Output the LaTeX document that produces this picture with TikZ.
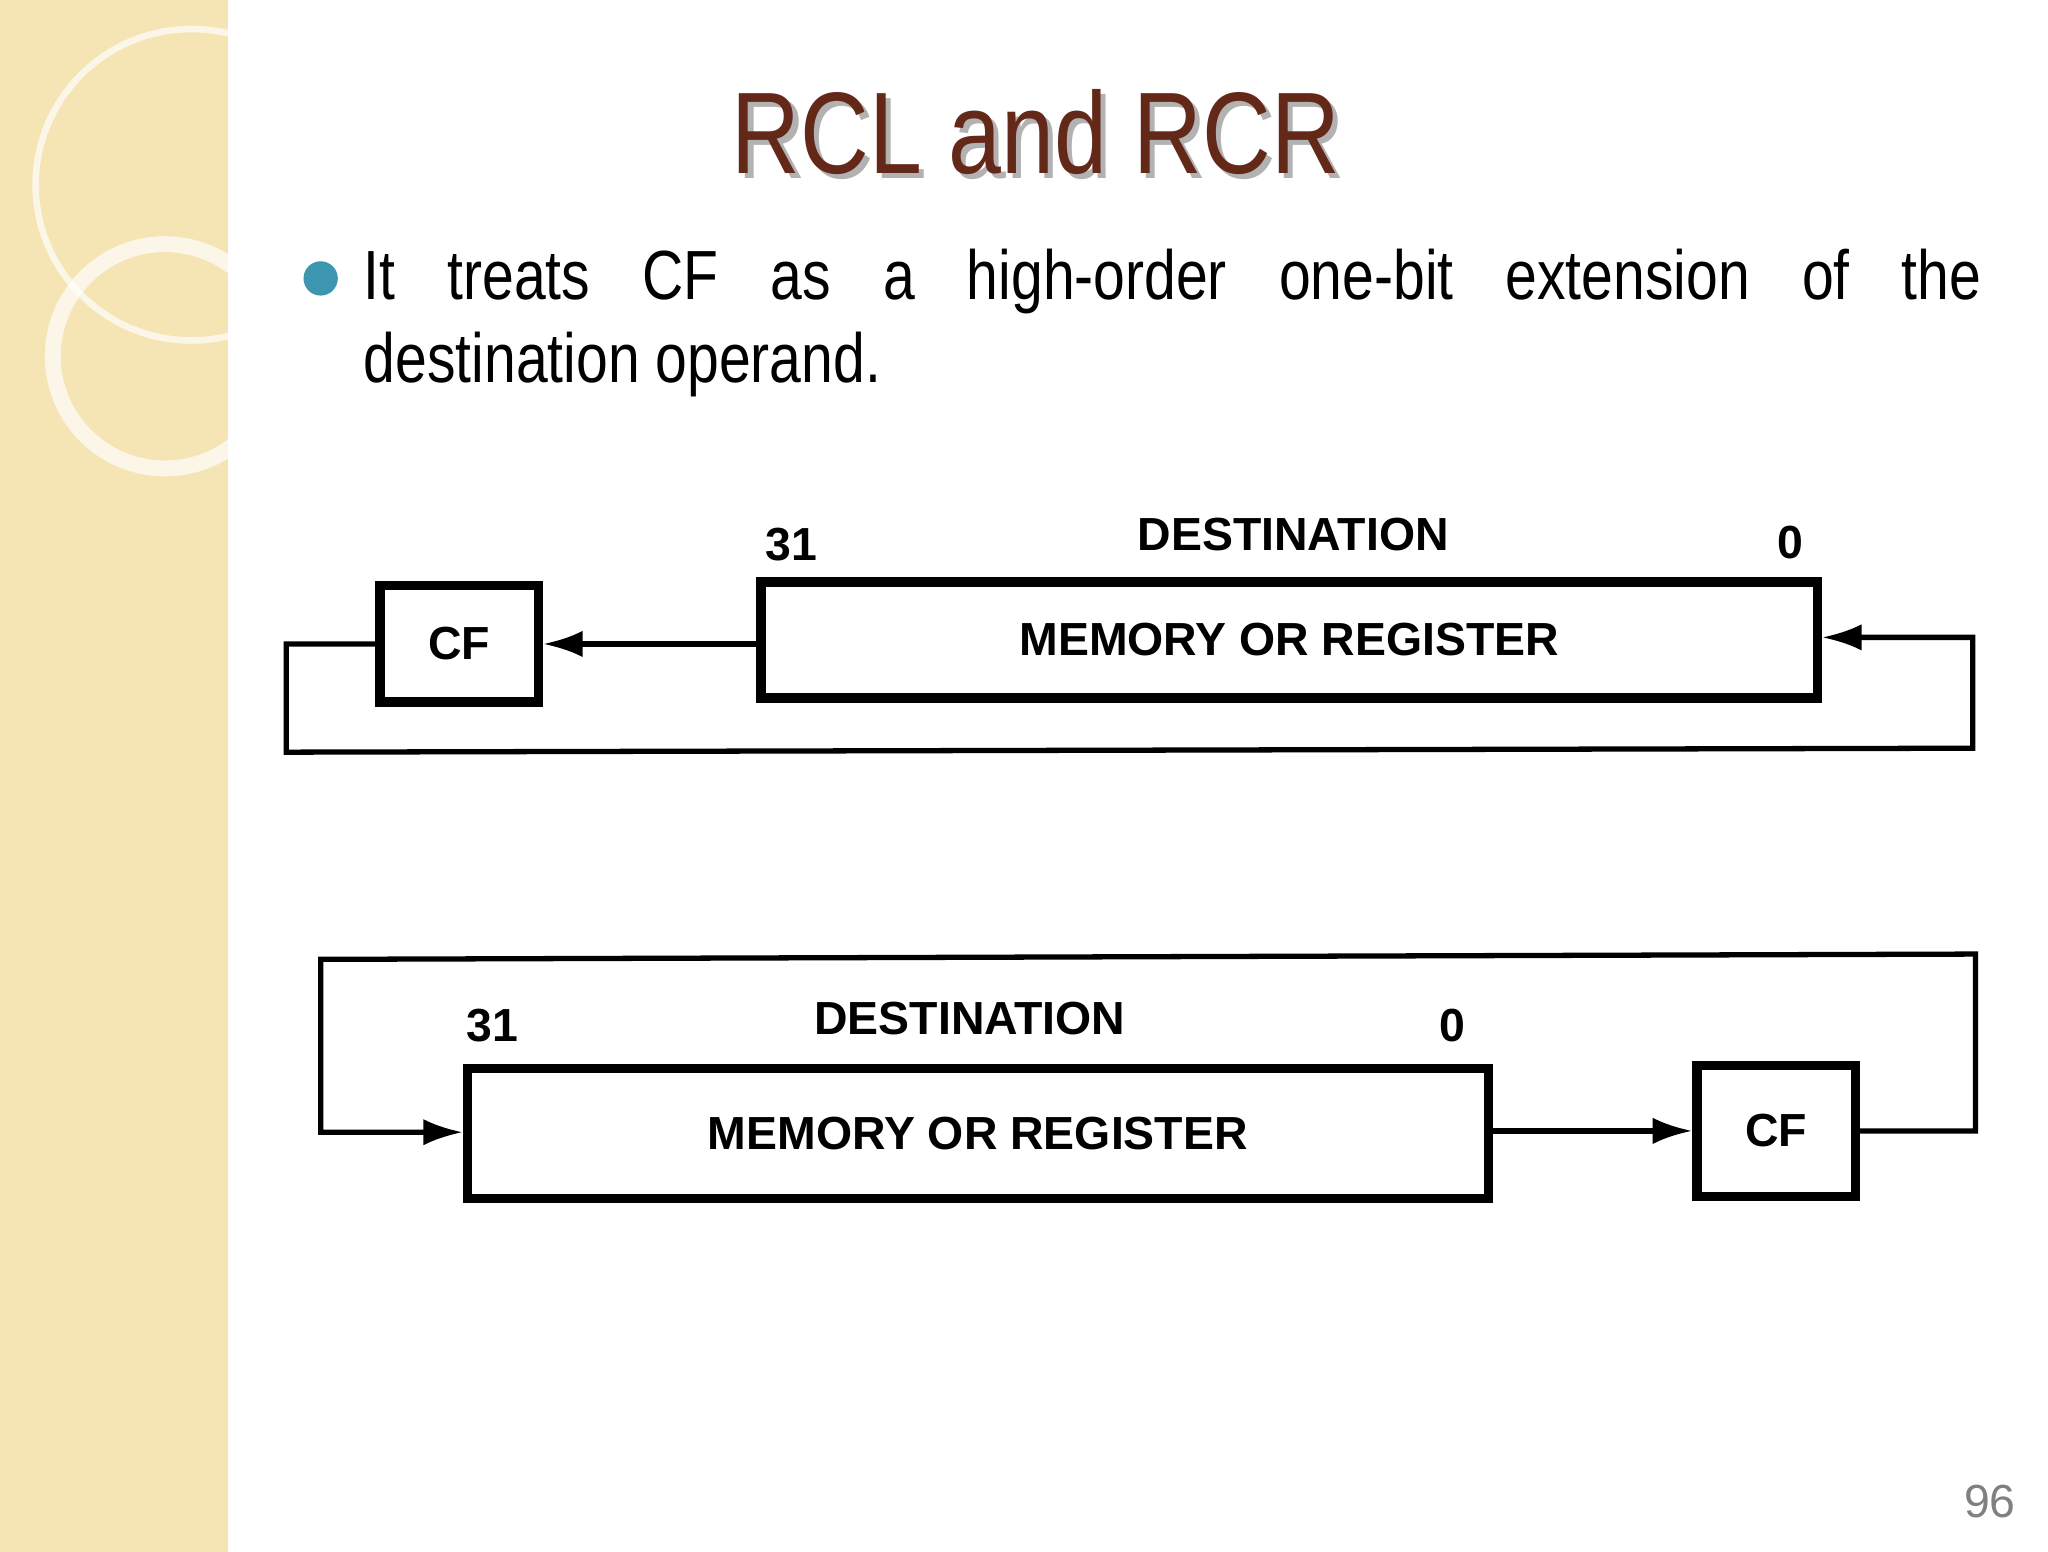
\documentclass[tikz,border=0pt]{standalone}
\usepackage{fontspec}
\setmainfont{Liberation Sans}
\newfontfamily\narrowfont{Liberation Sans}[FakeStretch=0.82]
\usetikzlibrary{positioning,arrows.meta}
\definecolor{beige}{RGB}{245,228,180}
\definecolor{titlebrown}{RGB}{100,40,25}
\definecolor{bulletteal}{RGB}{60,150,175}
\tikzset{box/.style={draw,line width=0.07cm,inner sep=0pt,font=\bfseries\fontsize{10}{12}\selectfont}}
\tikzset{cfbox/.style={box,minimum width=1.2cm,minimum height=0.88cm}}
\tikzset{lbl/.style={font=\bfseries\fontsize{10}{12}\selectfont}}
\tikzset{wire/.style={line width=0.04cm}}
\tikzset{arr/.style={wire,-{Latex[length=0.3cm,width=0.2cm]}}}
\begin{document}
\begin{tikzpicture}[x=0.01cm,y=-0.01cm]
        \useasboundingbox (0,0) rectangle (1552,1176);
        \fill[white] (0,0) rectangle (1552,1176);
        \fill[beige] (0,0) rectangle (173,1176);
        \draw[white,line width=0.05cm,opacity=0.7] (145,140) circle (118);
        \draw[white,line width=0.12cm,opacity=0.7] (125,270) circle (85);
        \node[font=\narrowfont\fontsize{25}{30}\selectfont,text=black!30] (shadow) at (789,104) {RCL and RCR};
        \node[font=\narrowfont\fontsize{25}{30}\selectfont,text=titlebrown] (title) at (785,100) {RCL and RCR};
        \fill[bulletteal] (243,211) circle (13);
        \node[anchor=north west,inner sep=0pt,font=\narrowfont\fontsize{15}{18}\selectfont] (bullet) at (275,188)
            {\parbox{12.25cm}{It treats CF as a high-order one-bit extension of the\linebreak destination operand.}};
        % RCL
        \node[cfbox] (cf1) at (348,488) {CF};
        \node[box,minimum width=8.0cm,minimum height=0.88cm] (mem1) at (977,485) {MEMORY OR REGISTER};
        \node[lbl] (hi1) at (600,413) {31};
        \node[lbl] (dest1) at (980,405) {DESTINATION};
        \node[lbl] (lo1) at (1357,411) {0};
        \coordinate (r1) at (1495,483);
        \coordinate (l1) at (217,488);
        \draw[arr] (mem1.west |- cf1) -- (cf1.east);
        \draw[arr] (cf1.west) -- (l1) -- (l1 |- 0,570) -- (r1 |- 0,567) -- (r1) -- (mem1.east |- r1);
        % RCR
        \node[box,minimum width=7.73cm,minimum height=0.98cm] (mem2) at (741,859) {MEMORY OR REGISTER};
        \node[cfbox,minimum height=0.99cm] (cf2) at (1346,857) {CF};
        \node[lbl] (hi2) at (373,777) {31};
        \node[lbl] (dest2) at (735,772) {DESTINATION};
        \node[lbl] (lo2) at (1101,777) {0};
        \coordinate (r2) at (1497,857);
        \coordinate (l2) at (243,858);
        \draw[arr] (mem2.east |- cf2) -- (cf2.west);
        \draw[arr] (cf2.east) -- (r2) -- (r2 |- 0,723) -- (l2 |- 0,727) -- (l2) -- (mem2.west |- l2);
        \node[text=gray,font=\fontsize{10}{12}\selectfont] (page) at (1508,1138) {96};
\end{tikzpicture}
\end{document}
